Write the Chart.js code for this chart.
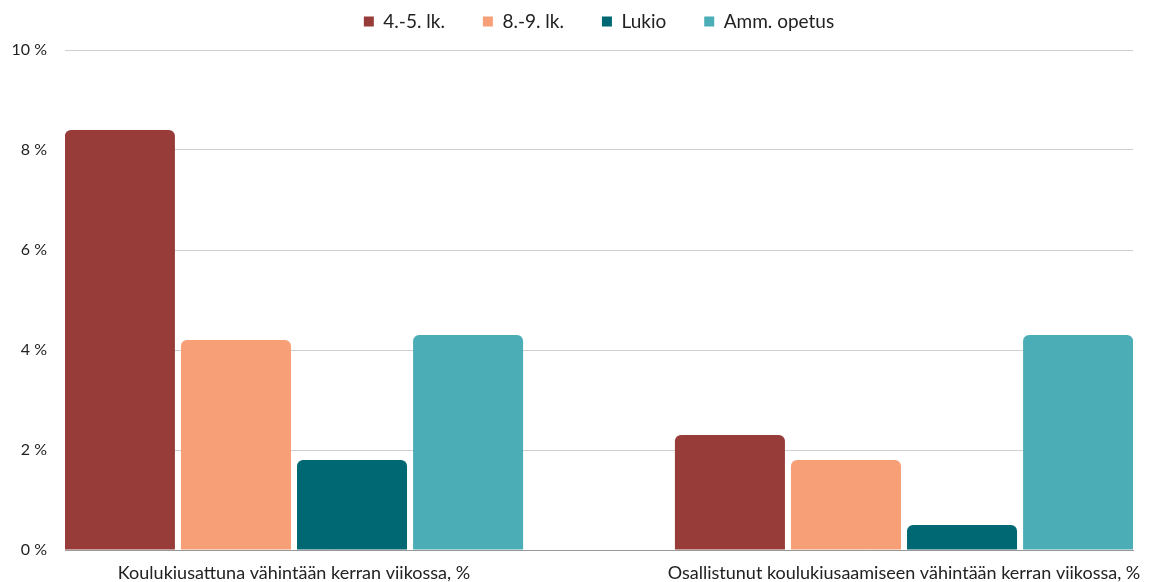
<!DOCTYPE html>
<html>
<head>
<meta charset="utf-8">
<script src="https://cdn.jsdelivr.net/npm/chart.js@4"></script>
<style>
    html, body { margin: 0; padding: 0; background: #fff; }
    #wrap { width: 1153px; height: 582px; }
</style>
</head>
<body>
<div id="wrap"><canvas id="bullyChart"></canvas></div>
<script>
// Data
const categories = [
    'Koulukiusattuna vähintään kerran viikossa, %',
    'Osallistunut koulukiusaamiseen vähintään kerran viikossa, %'
];
const seriesNames = ['4.-5. lk.', '8.-9. lk.', 'Lukio', 'Amm. opetus'];
const grade4to5 = [8.4, 2.3];
const grade8to9 = [4.2, 1.8];
const upperSecondary = [1.8, 0.5];
const vocational = [4.3, 4.3];
const yTicks = [0, 2, 4, 6, 8, 10];

const colors = ['#973c38', '#f7a077', '#006873', '#4badb6'];

function toPoints(values) {
    return values.map((v, i) => ({ x: i, y: v }));
}

const allSeries = [grade4to5, grade8to9, upperSecondary, vocational];

// Fixed legend height, and legend centred over the plot area instead of the canvas
const legendLayoutPlugin = {
    id: 'legendLayout',
    beforeInit: function(chart) {
        const legend = chart.legend;
        if (!legend) return;
        const origFit = legend.fit;
        legend.fit = function() {
            origFit.call(this);
            this.height = 76;
        };
        const origDraw = legend.draw;
        legend.draw = function() {
            const l = this.left, r = this.right;
            this.left = chart.chartArea.left;
            this.right = chart.chartArea.right;
            origDraw.call(this);
            this.left = l;
            this.right = r;
        };
    }
};

const ctx = document.getElementById('bullyChart');
new Chart(ctx, {
    type: 'bar',
    data: {
        datasets: allSeries.map((values, i) => ({
            label: seriesNames[i],
            data: toPoints(values),
            backgroundColor: colors[i],
            borderRadius: 6,
            borderSkipped: 'start',
            categoryPercentage: 0.761,
            barPercentage: 0.948
        }))
    },
    plugins: [legendLayoutPlugin],
    options: {
        responsive: true,
        maintainAspectRatio: false,
        animation: false,
        layout: {
            padding: { left: 0, right: 20, top: -26, bottom: 0 }
        },
        plugins: {
            legend: {
                display: true,
                position: 'top',
                labels: {
                    font: { family: 'Lato', size: 19 },
                    color: '#222',
                    boxWidth: 10,
                    boxHeight: 10,
                    padding: 38
                }
            },
            tooltip: { enabled: false }
        },
        scales: {
            x: {
                type: 'linear',
                offset: false,
                min: -0.3754,
                max: 1.3754,
                afterBuildTicks: function(scale) {
                    scale.ticks = categories.map((c, i) => ({ value: i }));
                },
                afterFit: function(scale) {
                    scale.height = 32;
                },
                grid: { display: false, offset: false },
                border: { display: true, color: '#999', width: 1 },
                ticks: {
                    padding: 4,
                    maxRotation: 0,
                    autoSkip: false,
                    color: '#222',
                    font: { family: 'Lato', size: 18 },
                    callback: function(value) {
                        return categories[value];
                    }
                }
            },
            y: {
                min: 0,
                max: 10,
                afterBuildTicks: function(scale) {
                    scale.ticks = yTicks.map(v => ({ value: v }));
                },
                afterFit: function(scale) {
                    scale.width = 65;
                },
                grid: { color: '#d0d0d0', drawTicks: false },
                border: { display: false },
                ticks: {
                    padding: 18,
                    color: '#222',
                    font: { family: 'Lato', size: 16 },
                    callback: function(value) {
                        return value + ' %';
                    }
                }
            }
        }
    }
});
</script>
</body>
</html>
